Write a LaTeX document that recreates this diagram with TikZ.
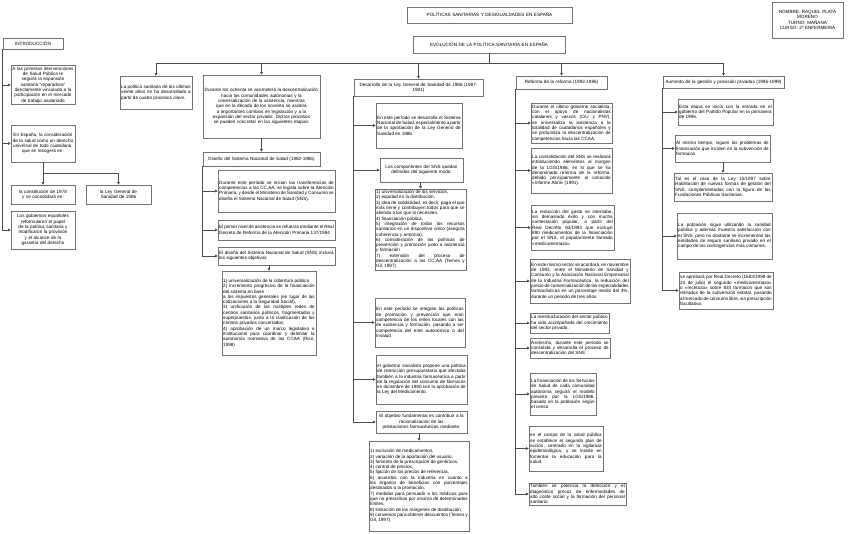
\documentclass[tikz,border=0pt]{standalone}
\usepackage{fontspec}
\setmainfont{Liberation Sans}
\usetikzlibrary{arrows.meta}
\hyphenpenalty=10000 \exhyphenpenalty=10000 \tolerance=10000 \emergencystretch=4pt
\tikzset{
 box/.style={draw=black!55, line width=0.6pt, inner sep=1.2pt, font=\fontsize{4.6}{5.3}\selectfont, text=black},
 jus/.style={align=justify},
 cen/.style={align=center},
 ln/.style={draw=black!70, line width=0.6pt},
 arr/.style={ln, -{Triangle[length=2.6pt,width=2.6pt]}},
}
\newcommand\bx[7]{%
 \pgfmathsetmacro\bxw{#4-#2}\pgfmathsetmacro\bxh{#5-#3}\pgfmathsetmacro\bxt{#4-#2-2.4}%
 \node[box,#6,minimum width=\bxw pt,minimum height=\bxh pt,text width=\bxt pt] (#1) at ({(#2+#4)/2},{(#3+#5)/2}) {#7};}
\begin{document}
\begin{tikzpicture}[x=1pt,y=-1pt]
\useasboundingbox (0,0) rectangle (848,533);
% titles
\bx{tit}{407}{7}{572}{23}{cen}{POLÍTICAS SANITARIAS Y DESIGUALDADES EN ESPAÑA}
\bx{evol}{413}{36}{565}{53}{cen}{EVOLUCIÓN DE LA POLÍTICA SANITARIA EN ESPAÑA}
\bx{nom}{772}{2}{843}{38}{cen}{NOMBRE: RAQUEL PLATA\\ MORENO\\ TURNO: MAÑANA\\ CURSO: 2º ENFERMERIA}
% introduction
\bx{intro}{3}{38}{63}{49}{cen}{INTRODUCCIÓN}
\bx{a1}{11}{66}{75}{104}{cen}{A las primeras intervenciones de Salud Pública le seguirá la expansión sanitaria “reparadora” directamente vinculada a la participación en el mercado de trabajo asalariado}
\bx{esp}{11}{125}{75}{162}{cen}{En España, la consideración de la salud como un derecho universal de todo ciudadano, que se recogerá en:}
\bx{con}{11}{185}{75}{204}{cen}{la constitución de 1978\\ y se consolidará en:}
\bx{ley}{86}{185}{151}{204}{cen}{la Ley General de Sanidad de 1986}
\bx{gob}{11}{211}{75}{249}{cen}{Los gobiernos españoles reformularon el papel de la política sanitaria y modificaron la provisión y el alcance de la garantía del derecho}
% column headers
\bx{c1}{120}{76}{192}{109}{jus}{La política sanitaria de los últimos veinte años se ha desarrollado a partir de cuatro procesos clave.}
\bx{c2}{203}{75}{320}{138}{cen}{Durante los ochenta se acometerá la descentralización hacia las comunidades autónomas y la universalización de la asistencia, mientras que en la década de los noventa se asistirá a importantes cambios en legislación y a la expansión del sector privado. Dichos procesos se pueden concretar en las siguientes etapas:}
\bx{c3}{354}{79}{483}{96}{cen}{Desarrollo de la Ley General de Sanidad de 1986 (1987-\\1991)}
\bx{c4}{516}{76}{607}{89}{cen}{Reforma de la reforma (1992-1996)}
\bx{c5}{663}{76}{784}{88}{cen}{Aumento de la gestión y provisión privadas (1996-1999)}
% column 2
\bx{dis}{203}{152}{320}{166}{cen}{Diseño del Sistema Nacional de Salud (1982-1986)}
\bx{A}{218}{170}{335}{212}{jus}{Durante este período se inician las transferencias de competencias a las CC.AA, se legisla sobre la Atención Primaria, y desde el Ministerio de Sanidad y Consumo se diseña el Sistema Nacional de Salud (SNS).}
\bx{B}{218}{220}{335}{240}{jus}{El primer nivel de asistencia se refuerza mediante el Real Decreto de Reforma de la Atención Primaria 137/1984}
\bx{C}{218}{247}{335}{265}{jus}{El diseño del Sistema Nacional de Salud (SNS) incluirá los siguientes objetivos:}
\bx{D}{222}{271}{316}{355}{jus}{1) universalización de la cobertura pública\\ 2) incremento progresivo de la financiación del sistema en base\\ a los impuestos generales (en lugar de las cotizaciones a la Seguridad Social),\\ 3) unificación de las múltiples redes de centros sanitarios públicos, fragmentados y superpuestos, junto a la clarificación de los centros privados concertados;\\ 4) aprobación de un marco legislativo e institucional para coordinar y delimitar la autonomía normativa de las CCAA (Rico, 1998)}
% column 3
\bx{E}{376}{103}{462}{148}{jus}{En este período se desarrolla el Sistema Nacional de Salud, especialmente a partir de la aprobación de la Ley General de Sanidad en 1986.}
\bx{F}{380}{158}{463}{182}{cen}{Los componentes del SNS quedan definidos del siguiente modo:}
\bx{G}{375}{190}{466}{269}{jus}{1) universalización de los servicios,\\ 2) equidad en la distribución,\\ 3) idea de solidaridad, es decir, paga el que más tiene y contribuyen todos para que se atienda a los que lo necesiten,\\ 4) financiación pública,\\ 5) integración de todos los recursos sanitarios en un dispositivo único (asegura coherencia y armonía),\\ 6) consideración de las políticas de prevención y promoción junto a asistencia y formación\\ 7) extensión del proceso de descentralización a las CC.AA (Temes y Gil, 1997)}
\bx{H}{375}{298}{465}{347}{jus}{En este período se integran las políticas de promoción y prevención que eran competencia de los entes locales con las de asistencia y formación, pasando a ser competencia del ente autonómico o del Insalud}
\bx{I}{376}{355}{467}{404}{jus}{el gobierno socialista propone una política de restricción presupuestaria que afectaba también a la industria farmacéutica a partir de la regulación del consumo de fármacos en diciembre de 1990 con la aprobación de la Ley del Medicamento.}
\bx{J}{376}{411}{467}{433}{cen}{El objetivo fundamental es contribuir a la\\ racionalización de las\\ prestaciones farmacéuticas mediante:}
\bx{K}{369}{441}{469}{531}{jus}{1) exclusión de medicamentos,\\ 2) variación de la aportación del usuario,\\ 3) fomento de la prescripción de genéricos,\\ 4) control de precios,\\ 5) fijación de los precios de referencia,\\ 6) acuerdos con la industria en cuanto a los órganos de beneficios con porcentajes destinados a la promoción,\\ 7) medidas para persuadir a los médicos para que no prescriban por encima de determinados límites,\\ 8) limitación de los márgenes de distribución,\\ 9) convenios para obtener descuentos (Temes y Gil, 1997).}
% column 4
\bx{L}{531}{103}{612}{143}{jus}{Durante el último gobierno socialista, con el apoyo de nacionalistas catalanes y vascos (CiU y PNV), se universaliza la asistencia a la totalidad de ciudadanos españoles y se profundiza la descentralización de competencias hacia las CCAA,}
\bx{M}{531}{148}{612}{193}{jus}{La consolidación del SNS se realizará introduciendo elementos al margen de la LGS/1986, en lo que se ha denominado reforma de la reforma, debido principalmente al conocido «Informe Abril» (1991).}
\bx{N}{531}{205}{614}{250}{jus}{La reducción del gasto se intentaba, sin demasiado éxito y con mucha contestación popular, a partir del Real Decreto 83/1993 que excluyó 890 medicamentos de la financiación por el SNS, el popularmente llamado «medicamentazo».}
\bx{O}{530}{259}{630}{303}{jus}{En este mismo sector se acordará, en noviembre de 1993, entre el Ministerio de Sanidad y Consumo y la Asociación Nacional Empresarial de la Industria Farmacéutica, la reducción del precio de comercialización de las especialidades farmacéuticas en un porcentaje medio del 3\%, durante un periodo de tres años.}
\bx{P}{530}{313}{609}{333}{jus}{La reestructuración del sector público ha sido acompañada del crecimiento del sector privado.}
\bx{Q}{530}{338}{610}{358}{jus}{Asimismo, durante este período se consolida y desarrolla el proceso de descentralización del SNS}
\bx{R}{530}{373}{596}{415}{jus}{La financiación de los Servicios de Salud de cada comunidad autónoma seguirá el modelo previsto por la LGS/1986, basado en la población según el censo}
\bx{S}{529}{426}{603}{471}{jus}{en el campo de la salud pública se establece el segundo plan de acción, centrado en la vigilancia epidemiológica, y se insiste en fomentar la educación para la salud.}
\bx{T}{529}{483}{626}{505}{jus}{También se potencia la detección y el diagnóstico precoz de enfermedades de alto coste social y la formación del personal sanitario.}
% column 5
\bx{U}{678}{99}{773}{125}{jus}{Esta etapa se inicia con la entrada en el gobierno del Partido Popular en la primavera de 1996.}
\bx{V}{675}{135}{770}{162}{jus}{Al mismo tiempo, siguen los problemas de financiación que inciden en la subvención de fármacos}
\bx{W}{674}{173}{772}{201}{jus}{Tal es el caso de la Ley 15/1997 sobre Habilitación de nuevas formas de gestión del SNS, complementadas con la figura de las Fundaciones Públicas Sanitarias.}
\bx{X}{677}{213}{772}{259}{jus}{La población sigue utilizando la sanidad pública y además muestra satisfacción con el SNS, pero no obstante se incrementan las entidades de seguro sanitario privado en el campo de las contingencias más comunes.}
\bx{Y}{679}{272}{773}{309}{jus}{se aprobará por Real Decreto (1663/1998 de 24 de julio) el segundo «medicamentazo» o «recetazo» sobre 834 fármacos que son retirados de la subvención estatal, pasando al mercado de consumo libre, sin prescripción facultativa.}
% connectors: main bus
\coordinate (bus) at (0,63);
\draw[ln] (evol.south) -- (evol.south |- bus);
\draw[ln] (c1.north |- bus) -- (c5.north |- bus);
\foreach \n in {c1,c2,c3,c4,c5} \draw[arr] (\n.north |- bus) -- (\n.north);
% introduction
\draw[arr] (intro.south west) |- (gob.west);
\draw[arr] (intro.south west |- a1.west) -- (a1.west);
\draw[arr] (intro.south west |- esp.west) -- (esp.west);
\coordinate (b2) at (0,173);
\draw[ln] (esp.south) -- (esp.south |- b2) -- (ley.north |- b2);
\draw[arr] (con.north |- b2) -- (con.north);
\draw[arr] (ley.north |- b2) -- (ley.north);
% column 2
\draw[arr] (c2.south) -- (dis.north);
\draw[arr] (dis.south west) |- (C.west);
\draw[arr] (dis.south west |- A.west) -- (A.west);
\draw[arr] (dis.south west |- B.west) -- (B.west);
\draw[arr] (D.north |- C.south) -- (D.north);
% column 3
\draw[arr] (c3.south west) |- (J.west);
\foreach \n in {E,F,H,I} \draw[arr] (c3.south west |- \n.west) -- (\n.west);
\draw[arr] (G.north |- F.south) -- (G.north);
\draw[arr] (K.north |- J.south) -- (K.north);
% column 4
\draw[arr] (c4.south west) |- (T.west);
\foreach \n in {L,M,N,O,P,Q,R,S} \draw[arr] (c4.south west |- \n.west) -- (\n.west);
% column 5
\draw[arr] (c5.south west) |- (Y.west);
\foreach \n in {U,V,X} \draw[arr] (c5.south west |- \n.west) -- (\n.west);
\draw[arr] (W.north |- V.south) -- (W.north);
\end{tikzpicture}
\end{document}
